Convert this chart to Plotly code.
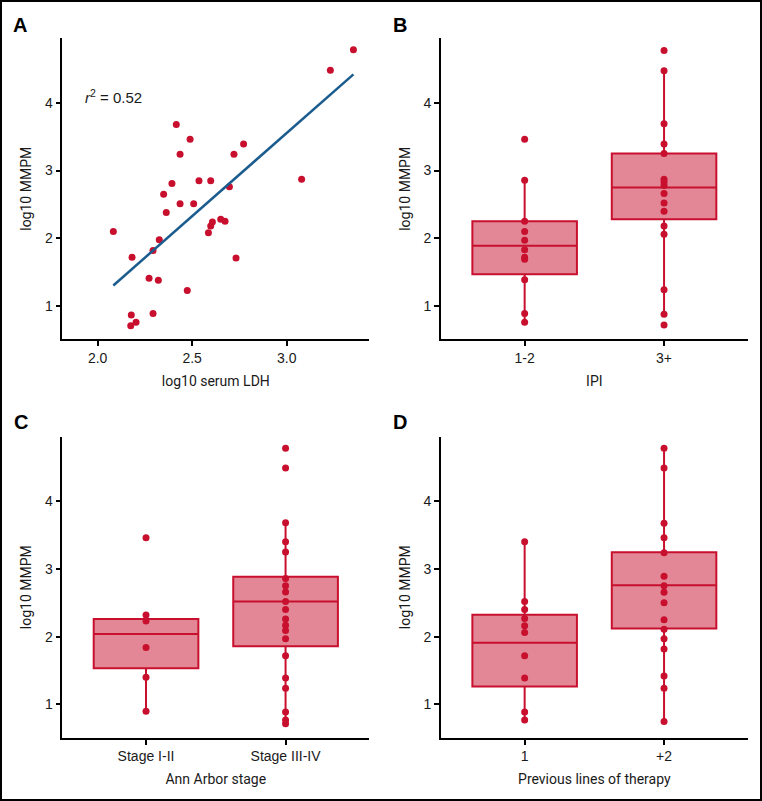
import numpy as np
import plotly.graph_objects as go

# ---------------- Data ----------------
# Panel A: scatter of log10 serum LDH vs log10 MMPM
ldh = [3.353, 3.231, 2.083, 2.416, 2.489, 2.436, 2.772, 2.721, 3.079, 2.393, 2.536,
       2.598, 2.697, 2.349, 2.436, 2.508, 2.363, 2.607, 2.651, 2.674, 2.598, 2.586,
       2.326, 2.293, 2.182, 2.732, 2.272, 2.321, 2.474, 2.178, 2.293, 2.175, 2.203]
mmpm_a = [4.78, 4.48, 2.10, 3.68, 3.46, 3.24, 3.39, 3.24, 2.87, 2.81, 2.85,
          2.85, 2.76, 2.65, 2.51, 2.51, 2.38, 2.24, 2.28, 2.25, 2.18, 2.08,
          1.98, 1.82, 1.72, 1.71, 1.41, 1.38, 1.23, 0.87, 0.89, 0.71, 0.76]
r2_label = "0.52"

# Panel B: IPI
ipi_cats = ["1-2", "3+"]
ipi_low = [3.46, 2.855, 2.25, 2.10, 1.97, 1.83, 1.72, 1.69, 1.39, 0.89, 0.76]
ipi_high = [4.77, 4.47, 3.69, 3.39, 3.25, 2.87, 2.83, 2.78, 2.66, 2.52, 2.40,
            2.18, 2.06, 1.24, 0.88, 0.72]
ipi_q1 = [1.47, 2.28]
ipi_med = [1.89, 2.75]
ipi_q3 = [2.25, 3.25]
ipi_lo = [0.76, 0.88]
ipi_hi = [2.855, 4.47]

# Panel C: Ann Arbor stage
stage_cats = ["Stage I-II", "Stage III-IV"]
stage_early = [3.46, 2.32, 2.23, 1.84, 1.40, 0.90]
stage_late = [4.78, 4.49, 3.68, 3.40, 3.25, 2.86, 2.75, 2.66, 2.52, 2.40, 2.26,
              2.17, 2.09, 1.97, 1.72, 1.39, 1.24, 0.89, 0.77, 0.715]
stage_q1 = [1.535, 1.86]
stage_med = [2.04, 2.52]
stage_q3 = [2.26, 2.885]
stage_lo = [0.90, 0.715]
stage_hi = [2.32, 3.68]

# Panel D: previous lines of therapy
lines_cats = ["1", "+2"]
lines_one = [3.40, 2.52, 2.40, 2.27, 2.16, 2.06, 1.72, 1.39, 0.89, 0.77]
lines_two = [4.78, 4.49, 3.675, 3.46, 3.24, 2.89, 2.75, 2.655, 2.50, 2.25, 2.11,
             1.97, 1.82, 1.42, 1.24, 0.75]
lines_q1 = [1.265, 2.12]
lines_med = [1.91, 2.76]
lines_q3 = [2.325, 3.245]
lines_lo = [0.77, 0.75]
lines_hi = [3.40, 4.78]

# ---------------- Style ----------------
RED = "#C8102E"
FILL = "rgba(200,16,46,0.5)"
BLUE = "#1B5C8F"
TICKFONT = dict(family="Liberation Sans, Arial, sans-serif", size=14, color="#1a1a1a")
TITLEFONT = dict(family="Roboto, sans-serif", size=14, color="#1a1a1a")
W, H = 762, 801

fig = go.Figure()

# Panel A
fig.add_trace(go.Scatter(x=ldh, y=mmpm_a, mode="markers",
                         marker=dict(color=RED, size=7), xaxis="x", yaxis="y",
                         showlegend=False, hoverinfo="x+y"))
slope, intercept = np.polyfit(np.array(ldh), np.array(mmpm_a), 1)
xfit = np.array([min(ldh), max(ldh)])
fig.add_trace(go.Scatter(x=xfit, y=slope * xfit + intercept, mode="lines",
                         line=dict(color=BLUE, width=2.5), xaxis="x", yaxis="y",
                         showlegend=False, hoverinfo="skip"))


def add_box_panel(ax, cats, q1, med, q3, lo, hi, groups):
    fig.add_trace(go.Box(x=cats, q1=q1, median=med, q3=q3, lowerfence=lo, upperfence=hi,
                         boxpoints=False, width=0.75, whiskerwidth=0,
                         fillcolor=FILL, line=dict(color=RED, width=2),
                         xaxis="x" + ax, yaxis="y" + ax, showlegend=False))
    for cat, vals in zip(cats, groups):
        fig.add_trace(go.Scatter(x=[cat] * len(vals), y=vals, mode="markers",
                                 marker=dict(color=RED, size=7),
                                 xaxis="x" + ax, yaxis="y" + ax, showlegend=False))


add_box_panel("2", ipi_cats, ipi_q1, ipi_med, ipi_q3, ipi_lo, ipi_hi, [ipi_low, ipi_high])
add_box_panel("3", stage_cats, stage_q1, stage_med, stage_q3, stage_lo, stage_hi, [stage_early, stage_late])
add_box_panel("4", lines_cats, lines_q1, lines_med, lines_q3, lines_lo, lines_hi, [lines_one, lines_two])


def px_x(a, b):
    return [a / W, b / W]


def px_y(top, bottom):
    return [1 - bottom / H, 1 - top / H]


def xax(domain, anchor, title, **kw):
    d = dict(domain=domain, anchor=anchor, showline=True, linecolor="black", linewidth=1.6,
             ticks="outside", ticklen=5, tickwidth=1.5, tickcolor="black",
             showgrid=False, zeroline=False, tickfont=TICKFONT,
             title=dict(text=title, font=TITLEFONT, standoff=11))
    d.update(kw)
    return d


def yax(domain, anchor, **kw):
    d = dict(domain=domain, anchor=anchor, showline=True, linecolor="black", linewidth=1.6,
             ticks="outside", ticklen=5, tickwidth=1.5, tickcolor="black",
             showgrid=False, zeroline=False, tickfont=TICKFONT, range=[0.51, 4.95],
             tickvals=[1, 2, 3, 4],
             title=dict(text="log10 MMPM", font=TITLEFONT, standoff=10))
    d.update(kw)
    return d


top_y = px_y(38.3, 339.3)
bot_y = px_y(436.7, 737.7)
left_x = px_x(62.3, 369.3)
right_x = px_x(441, 747.7)
cat_range = [-0.6, 1.6]

fig.update_layout(
    width=W, height=H, margin=dict(l=0, r=0, t=0, b=0),
    paper_bgcolor="white", plot_bgcolor="white", showlegend=False,
    xaxis=xax(left_x, "y", "log10 serum LDH", range=[1.813, 3.437],
              tickvals=[2.0, 2.5, 3.0], tickformat=".1f"),
    yaxis=yax(top_y, "x"),
    xaxis2=xax(right_x, "y2", "IPI", type="category", range=cat_range),
    yaxis2=yax(top_y, "x2"),
    xaxis3=xax(left_x, "y3", "Ann Arbor stage", type="category", range=cat_range),
    yaxis3=yax(bot_y, "x3"),
    xaxis4=xax(right_x, "y4", "Previous lines of therapy", type="category", range=cat_range),
    yaxis4=yax(bot_y, "x4"),
)

# r^2 annotation
fig.add_annotation(x=1.924, y=4.09, xref="x", yref="y", xanchor="left", yanchor="middle",
                   text="<i>r</i><sup>2</sup> = " + r2_label, showarrow=False,
                   font=dict(family="Liberation Sans, Arial, sans-serif", size=15, color="#1a1a1a"))

# panel letters
for letter, lx, ly in [("A", 20, 25), ("B", 400, 25), ("C", 21, 422), ("D", 400, 422)]:
    fig.add_annotation(x=lx / W, y=1 - ly / H, xref="paper", yref="paper",
                       text="<b>" + letter + "</b>", showarrow=False,
                       xanchor="center", yanchor="middle",
                       font=dict(family="Liberation Sans, Arial, sans-serif", size=20, color="black"))

# outer frame
fig.add_shape(type="rect", xref="paper", yref="paper",
              x0=1 / W, x1=1 - 1 / W, y0=1 / H, y1=1 - 1 / H,
              line=dict(color="black", width=2))

fig.write_html("out.html", config={"displayModeBar": False},
               post_script="document.body.style.margin='0';")
